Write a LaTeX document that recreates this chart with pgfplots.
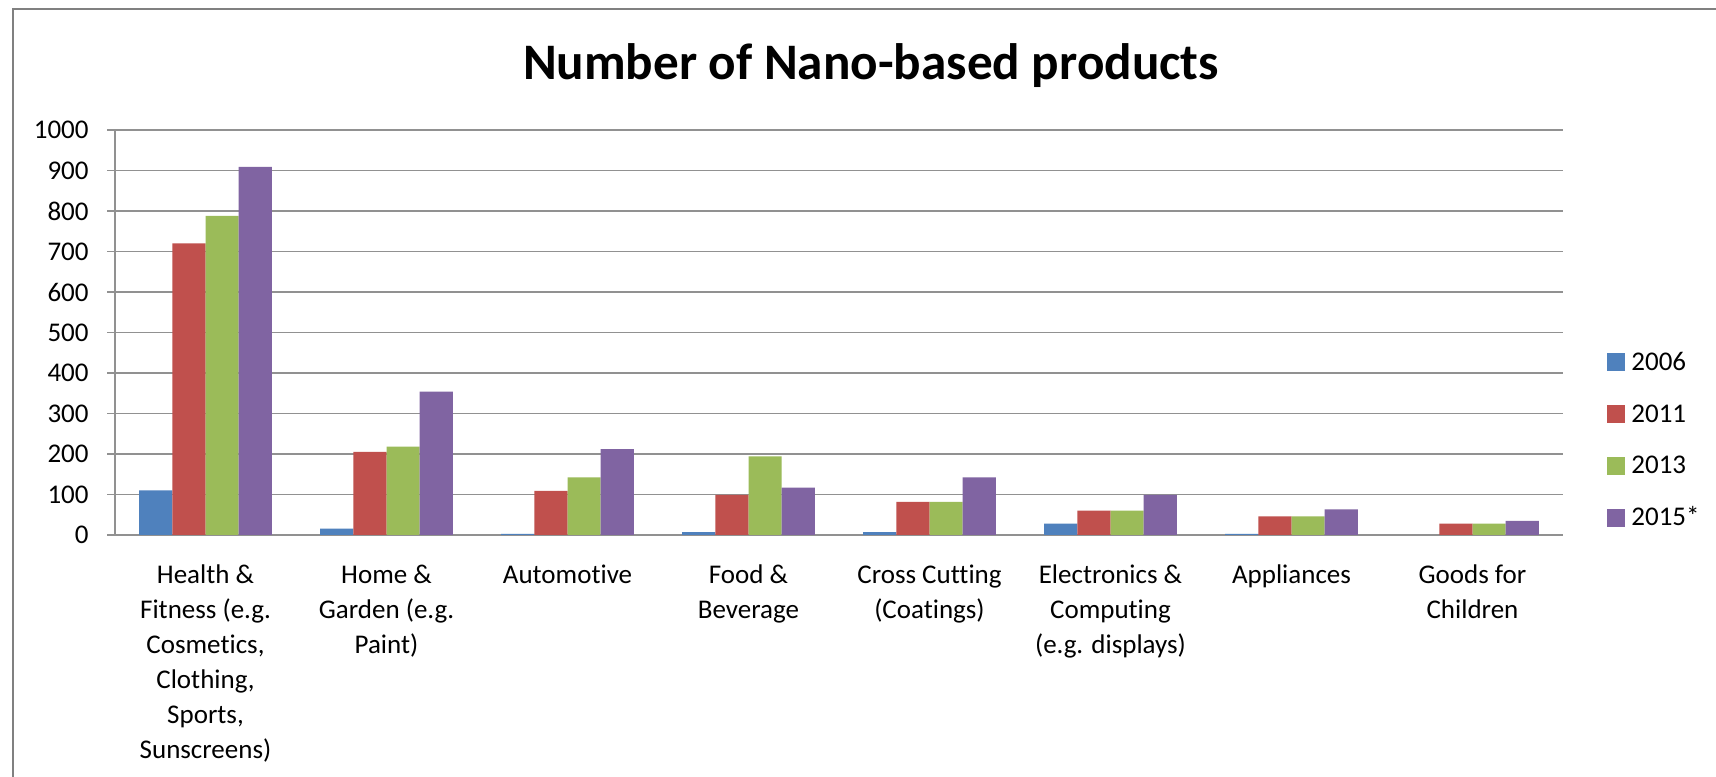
\documentclass[border=0pt]{standalone}
\usepackage{fontspec}
\setmainfont[Ligatures=NoCommon]{Carlito}
\usepackage{pgfplots}
\pgfplotsset{compat=1.18}
\definecolor{c1}{HTML}{4F81BD}
\definecolor{c2}{HTML}{C0504D}
\definecolor{c3}{HTML}{9BBB59}
\definecolor{c4}{HTML}{8064A2}
\definecolor{gridc}{RGB}{145,145,145}
\definecolor{framec}{RGB}{128,128,128}
\begin{document}
\begin{tikzpicture}
\useasboundingbox (0,0) rectangle (858bp,388.5bp);
\fill[white] (0,0) rectangle (858bp,388.5bp);
\draw[framec, line width=1bp] (6.5bp,-5bp) -- (6.5bp,384bp) -- (870bp,384bp);
\node[anchor=base, font=\fontsize{25.6bp}{30bp}\selectfont\bfseries] at (435.5bp,348.5bp) {Number of Nano-based products};
\begin{axis}[
  at={(57.5bp,121bp)}, anchor=south west,
  scale only axis, width=724bp, height=202.5bp,
  ybar=0pt, bar width=16.6bp,
  xmin=-0.5, xmax=7.5, ymin=0, ymax=1000,
  axis x line*=bottom, axis y line*=left,
  axis line style={gridc, line width=0.7bp, -},
  ytick={0,100,...,1000},
  ymajorgrids, grid style={gridc, line width=0.9bp},
  tick align=outside,
  major tick length=4bp,
  tick style={gridc, line width=0.7bp},
  /pgf/number format/assume math mode=true,
  /pgf/number format/1000 sep={},
  yticklabel style={font=\fontsize{13.5bp}{15bp}\selectfont, anchor=east, inner sep=0pt, xshift=-9bp},
  xtick={0,...,7},
  x tick style={draw=none},
  xticklabels={{Health \&\\Fitness (e.g.\\Cosmetics,\\Clothing,\\Sports,\\Sunscreens)},
    {Home \&\\Garden (e.g.\\Paint)},
    {Automotive},
    {Food \&\\Beverage},
    {Cross Cutting\\(Coatings)},
    {Electronics \&\\Computing\\(e.g. displays)},
    {Appliances},
    {Goods for\\Children}},
  xticklabel style={font=\fontsize{13.5bp}{17.5bp}\selectfont, align=center, anchor=north, inner sep=0pt, yshift=-10.8bp},
  extra x ticks={-0.5,0.5,...,7.5},
  extra x tick labels={},
  extra x tick style={major tick length=4bp, tick style={draw=gridc, line width=0.7bp}},
  legend style={at={(1.0304,0.2346)}, anchor=west, draw=none, fill=none,
    font=\fontsize{13.5bp}{15bp}\selectfont, row sep=13.85bp, column sep=1bp, inner sep=0pt,
    nodes={text height=8bp, text depth=0bp, inner sep=2bp}},
  legend cell align=left,
  legend image code/.code={\fill[#1] (0bp,-4.5bp) rectangle (9bp,4.5bp);},
]
\addplot[fill=c1, draw=none] coordinates {(0,110) (1,16) (2,3) (3,7) (4,7) (5,28) (6,3) (7,0)};
\addplot[fill=c2, draw=none] coordinates {(0,720) (1,205) (2,109) (3,99) (4,82) (5,60) (6,46) (7,28)};
\addplot[fill=c3, draw=none] coordinates {(0,788) (1,218) (2,142) (3,194) (4,82) (5,60) (6,46) (7,28)};
\addplot[fill=c4, draw=none] coordinates {(0,909) (1,354) (2,212) (3,117) (4,142) (5,99) (6,63) (7,35)};
\legend{2006,2011,2013,2015*}
\end{axis}
\end{tikzpicture}
\end{document}
